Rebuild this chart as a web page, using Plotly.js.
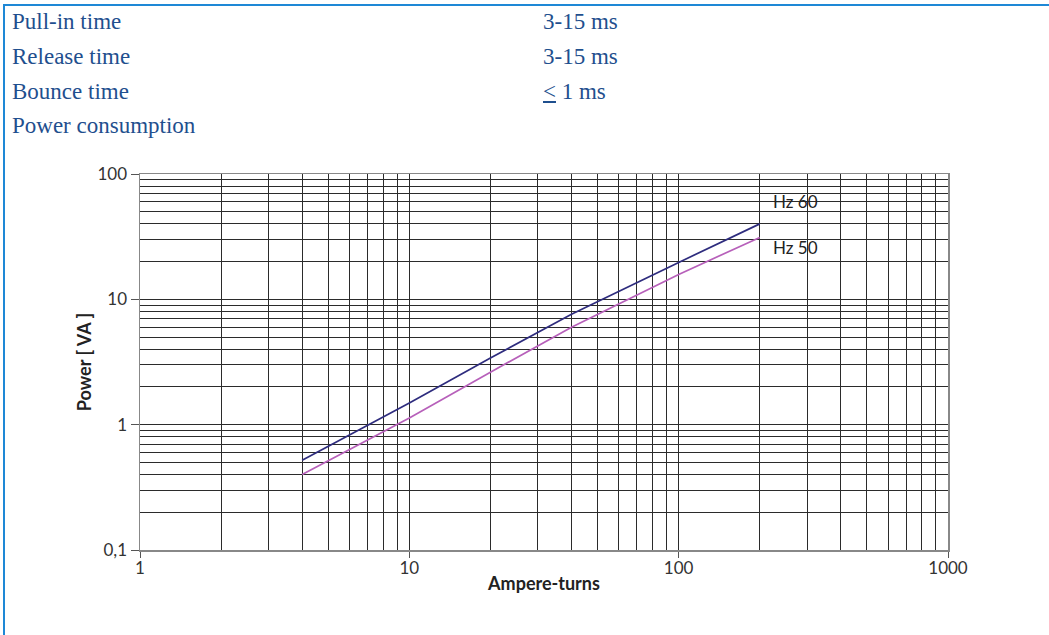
<!DOCTYPE html>
<html>
<head>
<meta charset="utf-8">
<script src="https://cdn.plot.ly/plotly-3.0.1.min.js"></script>
<style>
  html, body { margin: 0; padding: 0; background: #fff; }
  #page { position: relative; width: 1049px; height: 635px; overflow: hidden; background: #fff; }
  #frame { position: absolute; left: 3px; top: 4px; right: -2px; bottom: -2px;
           border-top: 2px solid #1e88d6; border-left: 2px solid #1e88d6; }
  .spec { position: absolute; font-family: "Liberation Serif", "DejaVu Serif", serif;
          font-size: 23px; color: #1f4f8e; white-space: nowrap; line-height: 1; z-index: 2; }
  #chart { position: absolute; left: 0; top: 0; width: 1049px; height: 635px; z-index: 1; }
</style>
</head>
<body>
<div id="page">
  <div id="frame"></div>
  <div id="specs"></div>
  <div id="chart"></div>
</div>
<script>
// ---- Data ----
var specLabels = ["Pull-in time", "Release time", "Bounce time", "Power consumption"];
var specValues = ["3-15 ms", "3-15 ms", "\u2264 1 ms", ""];

var ampTurns60 = [4, 10, 20, 40, 100, 200];
var power60    = [0.52, 1.49, 3.4, 7.6, 19.7, 40];
var ampTurns50 = [4, 10, 20, 40, 100, 200];
var power50    = [0.40, 1.13, 2.62, 6.0, 15.8, 31.2];

var seriesNames = ["Hz 60", "Hz 50"];
var labelX = [220, 220];
var labelY = [60, 25.8];

var xTickVals = [1, 10, 100, 1000];
var xTickText = ["1", "10", "100", "1000"];
var yTickVals = [0.1, 1, 10, 100];
var yTickText = ["0,1", "1", "10", "100"];

// ---- Spec text rows ----
var specs = document.getElementById("specs");
var rowTops = [10, 45, 80, 114];
specLabels.forEach(function (t, i) {
  var a = document.createElement("div");
  a.className = "spec"; a.textContent = t;
  a.style.left = "12px"; a.style.top = rowTops[i] + "px";
  specs.appendChild(a);
  if (specValues[i]) {
    var b = document.createElement("div");
    b.className = "spec";
    if (specValues[i].charAt(0) === "\u2264") {
      b.innerHTML = '<span style="text-decoration:underline">&lt;</span> 1 ms';
    } else {
      b.textContent = specValues[i];
    }
    b.style.left = "543px"; b.style.top = rowTops[i] + "px";
    specs.appendChild(b);
  }
});

// ---- Minor grid values ----
function minorVals(lo, hi) {
  var v = [];
  for (var d = lo; d < hi; d *= 10) for (var k = 2; k <= 9; k++) v.push(d * k);
  return v;
}

var gridCol = "#2b2b2b";
var fontFam = "Lato, 'Open Sans', 'DejaVu Sans', sans-serif";

var traces = [
  { x: ampTurns60, y: power60, name: seriesNames[0], mode: "lines",
    line: { color: "#2e2c7e", width: 1.7 } },
  { x: ampTurns50, y: power50, name: seriesNames[1], mode: "lines",
    line: { color: "#b760ba", width: 1.7 } }
];

var layout = {
  width: 1049, height: 635,
  margin: { l: 140, r: 101, t: 174, b: 85, pad: 0 },
  paper_bgcolor: "rgba(0,0,0,0)",
  plot_bgcolor: "rgba(0,0,0,0)",
  showlegend: false,
  font: { family: fontFam, color: "#333", size: 17 },
  xaxis: {
    type: "log", range: [0, 3], autorange: false,
    tickmode: "array", tickvals: xTickVals, ticktext: xTickText,
    ticks: "outside", ticklen: 6, tickcolor: "#555", tickwidth: 1,
    ticklabelstandoff: -4,
    showgrid: true, gridcolor: gridCol, gridwidth: 1,
    minor: { tickmode: "array", tickvals: minorVals(1, 1000), showgrid: true,
             gridcolor: gridCol, gridwidth: 1, ticks: "" },
    showline: true, linecolor: "#888", linewidth: 1.5, mirror: true,
    zeroline: false,
    tickfont: { family: fontFam, size: 17, color: "#333" },
    title: { text: "<b>Ampere-turns</b>", standoff: 0,
             font: { family: fontFam, size: 18, color: "#222" } }
  },
  yaxis: {
    type: "log", range: [-1, 2], autorange: false,
    tickmode: "array", tickvals: yTickVals, ticktext: yTickText,
    ticks: "outside", ticklen: 8, tickcolor: "#555", tickwidth: 1,
    showgrid: true, gridcolor: gridCol, gridwidth: 1,
    minor: { tickmode: "array", tickvals: minorVals(0.1, 100), showgrid: true,
             gridcolor: gridCol, gridwidth: 1, ticks: "" },
    showline: true, linecolor: "#888", linewidth: 1.5, mirror: true,
    zeroline: false,
    tickfont: { family: fontFam, size: 17, color: "#333" },
    title: { text: "<b>Power [ VA ]</b>", standoff: 1,
             font: { family: fontFam, size: 18, color: "#222" } }
  },
  annotations: seriesNames.map(function (n, i) {
    return { x: Math.log10(labelX[i]), y: Math.log10(labelY[i]), xref: "x", yref: "y",
             text: n, showarrow: false, xanchor: "left", yanchor: "middle",
             font: { family: fontFam, size: 17, color: "#222" } };
  })
};

Plotly.newPlot("chart", traces, layout, { staticPlot: true, displayModeBar: false });
</script>
</body>
</html>
